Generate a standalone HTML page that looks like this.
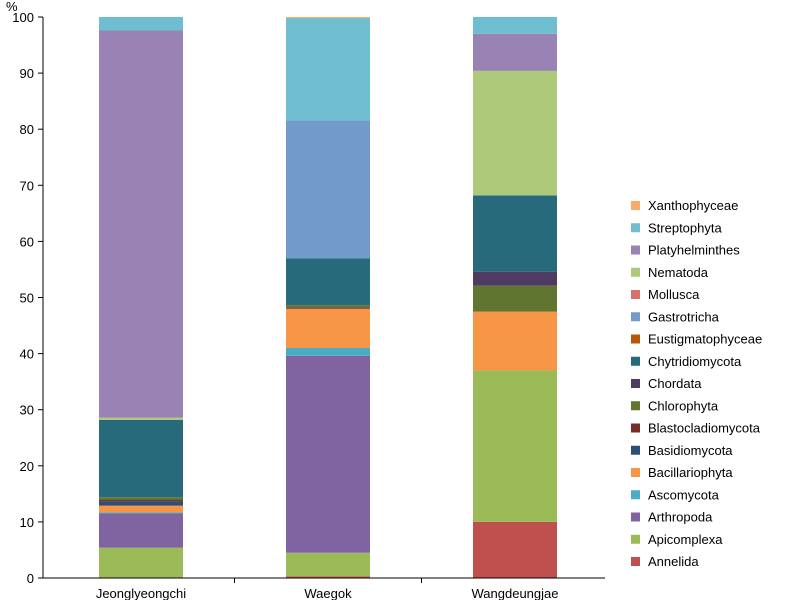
<!DOCTYPE html>
<html><head><meta charset="utf-8"><style>
body{margin:0;background:#fff;}
svg text{font-family:"Liberation Sans",sans-serif;fill:#000;}
</style></head><body>
<svg id="c" width="800" height="600"></svg>
<script>
const categories=["Jeonglyeongchi","Waegok","Wangdeungjae"];
const seriesNames=["Annelida","Apicomplexa","Arthropoda","Ascomycota","Bacillariophyta","Basidiomycota","Blastocladiomycota","Chlorophyta","Chordata","Chytridiomycota","Eustigmatophyceae","Gastrotricha","Mollusca","Nematoda","Platyhelminthes","Streptophyta","Xanthophyceae"];
const colors=["#c0504d","#9bbb59","#8064a2","#4bacc6","#f79646","#2c4d75","#772c2a","#5f7530","#4d3b62","#276a7c","#b65708","#729aca","#d4706d","#afc97a","#9983b5","#6fbdd1","#f9ab6b"];
const valJeong=[0,5.4,6.1,0.2,1.2,0.8,0.2,0.5,0,13.8,0,0,0,0.4,69,2.4,0];
const valWaegok=[0.3,4.2,35.1,1.4,7.0,0,0.2,0.4,0,8.4,0,24.6,0,0,0,18.2,0.2];
const valWang=[10,27,0,0,10.5,0,0,4.6,2.5,13.6,0,0,0,22.2,6.6,3,0];
const seriesValues=[valJeong,valWaegok,valWang];
const yTicks=[0,10,20,30,40,50,60,70,80,90,100];
const NS="http://www.w3.org/2000/svg";
const svg=document.getElementById('c');
const x0=43,x1=605,yB=578,yT=17;
const y=v=>yB-(v/100)*(yB-yT);
const cx0=47.5,step=187;
const xc=i=>cx0+step*(i+0.5);
const bw=84;
function mk(t,a){const e=document.createElementNS(NS,t);for(const k in a)e.setAttribute(k,a[k]);svg.appendChild(e);return e;}
categories.forEach((c,i)=>{
  let acc=0;
  seriesValues[i].forEach((v,s)=>{
    if(v<=0)return;
    const r=mk('rect',{x:xc(i)-bw/2,y:y(acc+v),width:bw,height:y(acc)-y(acc+v),fill:colors[s]});
    
    
    acc+=v;
  });
  const t=mk('text',{x:xc(i),y:598,'text-anchor':'middle','font-size':13});
  t.textContent=c;
  
  
});
const ya=mk('line',{x1:x0,y1:yT,x2:x0,y2:yB,stroke:'#000','stroke-width':1});


const xa=mk('line',{x1:x0,y1:yB,x2:x1,y2:yB,stroke:'#000','stroke-width':1});


for(let i=1;i<categories.length;i++){mk('line',{x1:cx0+step*i,y1:yB,x2:cx0+step*i,y2:yB+5,stroke:'#000'});}
yTicks.forEach(v=>{
  mk('line',{x1:x0-5,y1:y(v),x2:x0,y2:y(v),stroke:'#000'});
  const t=mk('text',{x:34,y:y(v)+5,'text-anchor':'end','font-size':13});
  t.textContent=v;
  
  
});
const pct=mk('text',{x:6,y:11,'font-size':13});
pct.textContent='%';


const n=seriesNames.length;
for(let k=0;k<n;k++){
  const s=n-1-k;
  const ly=205+k*22.25;
  const g=document.createElementNS(NS,'g');
  
  
  svg.appendChild(g);
  const r=document.createElementNS(NS,'rect');
  r.setAttribute('x',631);r.setAttribute('y',ly-4);r.setAttribute('width',9);r.setAttribute('height',9);r.setAttribute('fill',colors[s]);
  g.appendChild(r);
  const t=document.createElementNS(NS,'text');
  t.setAttribute('x',648);t.setAttribute('y',ly+5);t.setAttribute('font-size',13);
  t.textContent=seriesNames[s];
  g.appendChild(t);
}
</script>
</body></html>
